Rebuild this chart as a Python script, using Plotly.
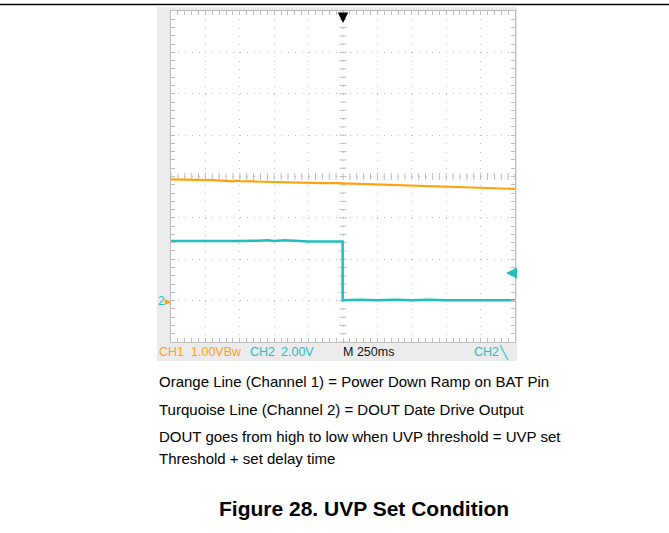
"""UVP set condition - scope capture"""

import plotly.graph_objects as go

W, H = 669, 533
# plot area in pixels
PL, PR, PT, PB = 171, 515, 11, 342

ORANGE = "#FFA20F"
TEAL = "#22BDBD"
GRID = "#BDBDBD"
FRAME = "#EBEBEB"

# CH1 (orange) trace, screen divisions
ch1_t = [0, 0.4, 0.8, 1.2, 1.6, 1.8, 1.9, 2.0, 2.4, 2.8, 3.2, 3.6, 4.0, 4.4,
         4.8, 5.2, 5.6, 6.0, 6.4, 6.8, 7.2, 7.6, 8.0, 8.4, 8.8, 9.2, 9.6, 10.0]
ch1_v = [3.93, 3.93, 3.92, 3.91, 3.90, 3.88, 3.90, 3.89, 3.88, 3.87, 3.86,
         3.85, 3.85, 3.84, 3.84, 3.83, 3.82, 3.81, 3.80, 3.79, 3.78, 3.77,
         3.76, 3.75, 3.74, 3.72, 3.71, 3.70]

# CH2 (turquoise) trace
ch2_t = [0, 0.5, 1.0, 1.5, 2.0, 2.5, 2.8, 3.0, 3.3, 3.6, 4.0, 4.5, 4.99,
         4.99, 5.5, 6.0, 6.5, 7.0, 7.5, 8.0, 8.5, 9.0, 9.5, 10.0]
ch2_v = [2.44, 2.44, 2.43, 2.44, 2.44, 2.45, 2.46, 2.44, 2.46, 2.45, 2.43,
         2.43, 2.43, 1.01, 1.02, 1.01, 1.02, 1.01, 1.02, 1.01, 1.01, 1.02,
         1.01, 1.01]

minor = [i * 0.2 for i in range(51)]
minor_y = [i * 0.2 for i in range(41)]

body_lines = [
    "Orange Line (Channel 1) = Power Down Ramp on BAT Pin",
    "Turquoise Line (Channel 2) = DOUT Date Drive Output",
    "DOUT goes from high to low when UVP threshold = UVP set",
    "Threshold + set delay time",
]
body_y = [381, 409, 436, 458]
caption = "Figure 28. UVP Set Condition"


def px(x):
    return (x - PL) / (PR - PL)


def py(y):
    return (PB - y) / (PB - PT)


fig = go.Figure()

# center crosshair ticks
fig.add_trace(go.Scatter(
    x=minor, y=[4] * len(minor), mode="markers", hoverinfo="skip",
    marker=dict(symbol="line-ns", size=5, line=dict(width=1, color=GRID)),
))
fig.add_trace(go.Scatter(
    x=[5] * len(minor_y), y=minor_y, mode="markers", hoverinfo="skip",
    marker=dict(symbol="line-ew", size=5, line=dict(width=1, color=GRID)),
))

fig.add_trace(go.Scatter(x=ch1_t, y=ch1_v, mode="lines",
                         line=dict(color=ORANGE, width=2.2)))
fig.add_trace(go.Scatter(x=ch2_t, y=ch2_v, mode="lines",
                         line=dict(color=TEAL, width=2.5)))

shapes = [
    # top rule
    dict(type="line", xref="paper", yref="paper", x0=px(0), x1=px(W),
         y0=py(4.5), y1=py(4.5), line=dict(color="black", width=1.5)),
    # scope frame
    dict(type="rect", xref="paper", yref="paper", x0=px(157), x1=px(517),
         y0=py(361), y1=py(7), fillcolor=FRAME, line_width=0, layer="below"),
    dict(type="rect", xref="paper", yref="paper", x0=0, x1=1, y0=0, y1=1,
         fillcolor="white", line_width=0, layer="below"),
]

ann = []
# status bar
bar = [
    ("CH1", 157, ORANGE), ("1.00VBw", 189, ORANGE), ("CH2", 248, TEAL),
    ("2.00V", 279, TEAL), ("M 250ms", 341, "#111111"), ("CH2", 472, TEAL),
    ("╲", 497, TEAL),
]
for text, x, c in bar:
    ann.append(dict(text=text, x=px(x), y=py(352), xref="paper", yref="paper",
                    xanchor="left", yanchor="middle", showarrow=False,
                    font=dict(family="Liberation Sans Narrow, Arial Narrow, sans-serif",
                              size=12.5, color=c)))
# CH2 ground marker
ann.append(dict(text=f"<span style='color:{TEAL}'>2</span>"
                     f"<span style='color:{ORANGE}'>▸</span>",
                x=px(156), y=py(301), xref="paper", yref="paper",
                xanchor="left", yanchor="middle", showarrow=False,
                font=dict(family="Liberation Sans Narrow, sans-serif", size=12)))
# trigger position / level arrows
ann.append(dict(x=px(343), y=py(23), xref="paper", yref="paper", text="",
                showarrow=True, ax=0, ay=-11, arrowhead=2, arrowsize=1.3,
                arrowwidth=1.6, arrowcolor="black"))
ann.append(dict(x=px(506), y=py(273), xref="paper", yref="paper", text="",
                showarrow=True, ax=10, ay=0, arrowhead=2, arrowsize=1.1,
                arrowwidth=2, arrowcolor=TEAL))
# description text
for text, y in zip(body_lines, body_y):
    ann.append(dict(text=text, x=px(157), y=py(y), xref="paper", yref="paper",
                    xanchor="left", yanchor="middle", showarrow=False,
                    font=dict(family="Liberation Sans, Arial, sans-serif",
                              size=15, color="black")))
ann.append(dict(text=f"<b>{caption}</b>", x=px(364), y=py(508), xref="paper",
                yref="paper", xanchor="center", yanchor="middle",
                showarrow=False,
                font=dict(family="Liberation Sans, Arial, sans-serif",
                          size=21, color="black")))

axis = dict(showticklabels=False, showline=True, linecolor=GRID, linewidth=1,
            mirror="ticks", ticks="inside", ticklen=4, tickcolor=GRID,
            zeroline=False, showgrid=True, gridcolor=GRID, gridwidth=1,
            fixedrange=True)

fig.update_layout(
    width=W, height=H, autosize=False,
    margin=dict(l=PL, r=W - PR, t=PT, b=H - PB, pad=0),
    paper_bgcolor="white", plot_bgcolor="rgba(0,0,0,0)",
    showlegend=False,
    xaxis=dict(**axis, range=[0, 10], dtick=1, griddash="1px,7.28px",
               minor=dict(dtick=0.2, ticks="inside", ticklen=4,
                          tickcolor=GRID, showgrid=False)),
    yaxis=dict(**axis, range=[0, 8], dtick=1, griddash="1px,5.88px",
               minor=dict(dtick=0.2, ticks="inside", ticklen=4,
                          tickcolor=GRID, showgrid=False)),
    shapes=shapes,
    annotations=ann,
)

fig.write_html("out.html", config={"displayModeBar": False},
               post_script="document.body.style.margin='0';")
